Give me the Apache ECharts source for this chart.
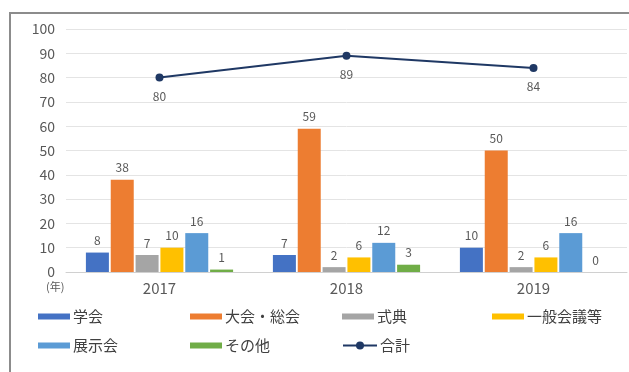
<!DOCTYPE html>
<html><head><meta charset="utf-8">
<script src="https://cdn.jsdelivr.net/npm/echarts@6/dist/echarts.min.js"></script>
<style>html,body{margin:0;padding:0;background:#fff}#c{width:629px;height:372px}</style>
</head><body><div id="c"></div>
<script>
const categories = ['2017', '2018', '2019'];
const gakkai = [8, 7, 10];
const taikai = [38, 59, 50];
const shikiten = [7, 2, 2];
const ippan = [10, 6, 6];
const tenji = [16, 12, 16];
const sonota = [1, 3, 0];
const goukei = [80, 89, 84];
const yTicks = [0, 10, 20, 30, 40, 50, 60, 70, 80, 90, 100];

const FONT = '"Noto Sans CJK JP", "Noto Sans", sans-serif';
const barNames = ['学会', '大会・総会', '式典', '一般会議等', '展示会', 'その他'];
const barData = [gakkai, taikai, shikiten, ippan, tenji, sonota];
const colors = ['#4472C4', '#ED7D31', '#A5A5A5', '#FFC000', '#5B9BD5', '#70AD47'];
const lineColor = '#1F3864';

const series = barNames.map((n, i) => ({
  name: n, type: 'bar', data: barData[i], barWidth: 23, barGap: '8%',
  itemStyle: { color: colors[i] },
  label: { show: true, position: 'top', color: '#595959', fontSize: 12, fontFamily: FONT, distance: 6 }
}));
series.push({
  name: '合計', type: 'line', data: goukei, symbol: 'circle', symbolSize: 8,
  lineStyle: { color: lineColor, width: 2 }, itemStyle: { color: lineColor },
  label: { show: true, position: 'bottom', distance: 9, color: '#595959', fontSize: 12, fontFamily: FONT }
});

const legendPos = [
  [38, 309], [190, 309], [342, 309], [492, 309],
  [38, 338], [190, 338], [342, 338]
];
const allNames = barNames.concat(['合計']);
const legends = allNames.map((n, i) => ({
  data: [n], left: legendPos[i][0], top: legendPos[i][1],
  itemWidth: n === '合計' ? 34 : 32, itemHeight: n === '合計' ? 10 : 6, itemGap: 0,
  icon: n === '合計' ? undefined : 'rect',
  textStyle: { color: '#404040', fontSize: 15, fontFamily: FONT, padding: [0, 0, 0, -2] },
  selectedMode: false, padding: 0
}));

const chart = echarts.init(document.getElementById('c'), null, { renderer: 'canvas' });
chart.setOption({
  animation: false,
  textStyle: { fontFamily: FONT },
  grid: { left: 66, right: 2, top: 29, bottom: 100, containLabel: false },
  legend: legends,
  xAxis: {
    type: 'category', data: categories,
    axisLine: { lineStyle: { color: '#d0d0d0' } }, axisTick: { show: false },
    axisLabel: { color: '#595959', fontSize: 15, fontFamily: FONT, margin: 9 }
  },
  yAxis: {
    type: 'value', min: yTicks[0], max: yTicks[yTicks.length - 1], interval: 10,
    axisLine: { show: false }, axisTick: { show: false },
    axisLabel: { color: '#595959', fontSize: 14, fontFamily: FONT, margin: 11 },
    splitLine: { lineStyle: { color: '#e4e4e4' } }
  },
  series: series,
  graphic: [
    { type: 'rect', shape: { x: 10, y: 13, width: 700, height: 400 }, style: { fill: 'none', stroke: '#8c8c8c', lineWidth: 2 }, z: 100 },
    { type: 'text', left: 46, top: 281, style: { text: '(年)', fill: '#595959', fontSize: 11, fontFamily: FONT } }
  ]
});
</script></body></html>
